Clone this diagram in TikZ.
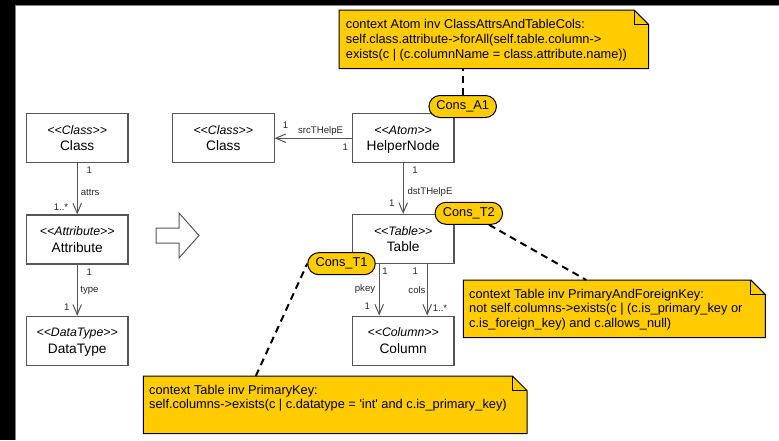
\documentclass[tikz,border=0pt]{standalone}
\usepackage{fontspec}
\setmainfont{Liberation Sans}
\usetikzlibrary{arrows.meta,shapes.misc,backgrounds,calc}

\definecolor{noteyellow}{RGB}{255,204,0}
\definecolor{linegray}{RGB}{85,85,85}
\newcommand\notefold{14.5pt}

\tikzset{
  umlbox/.style={draw=linegray, line width=1.1pt, minimum width=101.5pt,
    minimum height=49pt, inner sep=0pt, fill=white},
  stereotext/.style={font=\fontsize{12.3}{14}\selectfont\itshape, inner sep=0pt, anchor=base},
  nametext/.style={font=\fontsize{13.7}{16}\selectfont, inner sep=0pt, anchor=base},
  assoc/.style={draw=linegray, line width=1pt, -{Straight Barb[length=10pt,width=8.5pt]}},
  lbl/.style={font=\fontsize{9.6}{11}\selectfont, inner sep=0pt, text=black!85},
  cons/.style={rounded rectangle, draw=black, line width=1pt, fill=noteyellow,
    minimum width=67.5pt, minimum height=22pt, inner sep=0pt,
    font=\fontsize{12.8}{14}\selectfont},
  notebox/.style={rectangle, inner sep=0pt, anchor=north west},
  notetext/.style={font=\fontsize{12.8}{14.7}\selectfont, align=left, inner sep=0pt, anchor=base west},
  notedraw/.style={draw=black, line width=1pt, fill=noteyellow},
  anchorline/.style={draw=black, line width=2pt, dash pattern=on 7pt off 5pt},
}

% class box with a stereotype line and a name line
\newcommand\umlclass[5]{%
  \node[umlbox] (#1) at (#2,#3) {};
  \node[stereotext] (#1s) at ([yshift=3.9pt]#1.center) {<{}<#4>{}>};
  \node[nametext] (#1n) at ([yshift=-12.5pt]#1.center) {#5};
}

% yellow note with a folded corner, drawn behind its text
\newcommand\notepath[1]{%
  \begin{scope}[on background layer]
    \draw[notedraw] (#1.north west) -- ([xshift=-\notefold]#1.north east)
      -- ([yshift=-\notefold]#1.north east) -- (#1.south east)
      -- (#1.south west) -- cycle;
    \draw[line width=1pt] ([xshift=-\notefold]#1.north east)
      -- ([xshift=-\notefold,yshift=-\notefold]#1.north east)
      -- ([yshift=-\notefold]#1.north east);
  \end{scope}}

\begin{document}
\begin{tikzpicture}[x=1pt, y=-1pt]
\useasboundingbox (0,0) rectangle (779,440);

% window frame
\fill[black] (0,0) rectangle (15,440);
\fill[black] (0,0) rectangle (779,5);
\draw[gray, line width=1pt] (15.5,440) -- (15.5,5.5) -- (779,5.5);

% source model
\umlclass{clsA}{77.2}{138.2}{Class}{Class}
\umlclass{attr}{77.2}{239.5}{Attribute}{Attribute}
\umlclass{dtype}{77.2}{340.8}{DataType}{DataType}

% target model
\umlclass{clsB}{223.3}{138.2}{Class}{Class}
\umlclass{helper}{403.2}{138.2}{Atom}{HelperNode}
\umlclass{table}{403.2}{239}{Table}{Table}
\umlclass{column}{403.2}{340.6}{Column}{Column}

% transformation arrow
\draw[draw=linegray, line width=1pt, fill=white]
  (156,228) -- (179,228) -- (179,213) -- (199,235.5) -- (179,258)
  -- (179,243) -- (156,243) -- cycle;

% associations
\draw[assoc] (clsA.south) -- (attr.north)
  node[lbl, at start, xshift=12pt, yshift=-7pt] {1}
  node[lbl, at start, xshift=13pt, yshift=-29.5pt] {attrs}
  node[lbl, at end, anchor=east, xshift=-8.5pt, yshift=7.7pt] {1..*};
\draw[assoc] (attr.south) -- (dtype.north)
  node[lbl, at start, xshift=12pt, yshift=-7.7pt] {1}
  node[lbl, at start, xshift=12.3pt, yshift=-26pt] {type}
  node[lbl, at end, xshift=-10.5pt, yshift=9pt] {1};
\draw[assoc] (helper.west) -- (clsB.east)
  node[lbl, at end, xshift=11pt, yshift=13pt] {1}
  node[lbl, at end, xshift=46pt, yshift=7.5pt] {srcTHelpE}
  node[lbl, at start, xshift=-6.7pt, yshift=-8.7pt] {1};
\draw[assoc] (helper.south) -- (table.north)
  node[lbl, at start, xshift=11.8pt, yshift=-6.5pt] {1}
  node[lbl, at start, xshift=26.8pt, yshift=-29.2pt] {dstTHelpE}
  node[lbl, at end, xshift=-11.5pt, yshift=10.5pt] {1};
\draw[assoc] ([xshift=-24pt]table.south) -- ([xshift=-24pt]column.north)
  node[lbl, at start, xshift=5.8pt, yshift=-7.5pt] {1}
  node[lbl, at start, xshift=-14.2pt, yshift=-24.8pt] {pkey}
  node[lbl, at end, xshift=-11.9pt, yshift=9.4pt] {1};
\draw[assoc] ([xshift=24pt]table.south) -- ([xshift=24pt]column.north)
  node[lbl, at start, xshift=-11.9pt, yshift=-7.5pt] {1}
  node[lbl, at start, xshift=-10.2pt, yshift=-26.5pt] {cols}
  node[lbl, at end, xshift=12.8pt, yshift=7.8pt] {1..*};

% constraint tags
\node[cons] (consA1) at (462.7,106.5) {Cons\_A1};
\node[cons] (consT2) at (468.8,213.3) {Cons\_T2};
\node[cons] (consT1) at (341.5,263.7) {Cons\_T1};

% OCL notes (the text node's base is the baseline of its last line)
\node[notebox, minimum width=309.3pt, minimum height=58.3pt] (noteA1) at (339,10) {};
\node[notetext] (noteA1t) at ([xshift=6.7pt, yshift=-48pt]noteA1.north west)
  {context Atom inv ClassAttrsAndTableCols:\\
   self.class.attribute->forAll(self.table.column->\\
   exists(c | (c.columnName = class.attribute.name))};
\notepath{noteA1}

\node[notebox, minimum width=301.7pt, minimum height=57.3pt] (noteT2) at (463.3,280) {};
\node[notetext] (noteT2t) at ([xshift=5.7pt, yshift=-47.6pt]noteT2.north west)
  {context Table inv PrimaryAndForeignKey:\\
   not self.columns->exists(c | (c.is\_primary\_key or\\
   c.is\_foreign\_key) and c.allows\_null)};
\notepath{noteT2}

\node[notebox, minimum width=383.3pt, minimum height=57.3pt] (noteT1) at (143.3,376) {};
\node[notetext] (noteT1t) at ([xshift=5.7pt, yshift=-32.8pt]noteT1.north west)
  {context Table inv PrimaryKey:\\
   self.columns->exists(c | c.datatype = \textquotesingle int\textquotesingle{} and c.is\_primary\_key)};
\notepath{noteT1}

% note anchors
\draw[anchorline] (consA1.north) -- (consA1.north |- noteA1.south);
\coordinate (tT2) at ([xshift=123pt]noteT2.north west);
\draw[anchorline] (consT2) -- (tT2);
\coordinate (tT1) at ([xshift=112.5pt]noteT1.north west);
\draw[anchorline] (tT1) -- (consT1.west);
\end{tikzpicture}
\end{document}
